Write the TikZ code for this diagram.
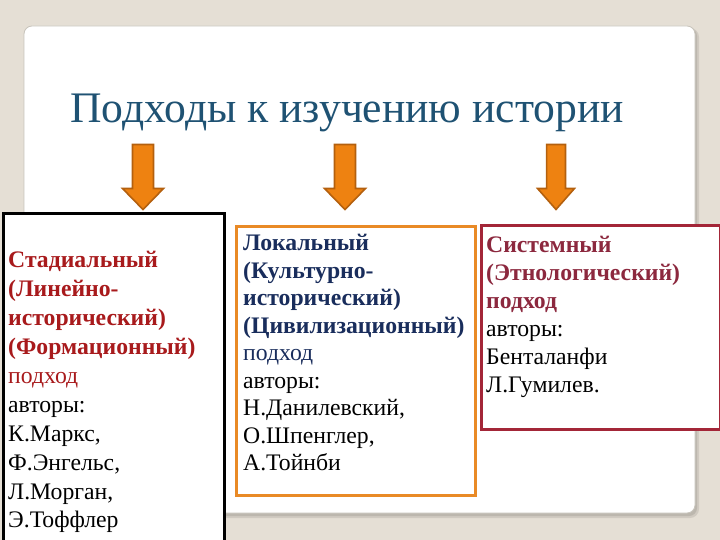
\documentclass[tikz,border=0pt]{standalone}
\usepackage{fontspec}
\setmainfont{Liberation Serif}
\definecolor{bgc}{RGB}{229,223,213}
\definecolor{cardedge}{RGB}{200,196,188}
\definecolor{shadowc}{RGB}{170,165,156}
\definecolor{titlec}{RGB}{31,82,115}
\definecolor{arrowfillc}{RGB}{238,130,17}
\definecolor{arrowdrawc}{RGB}{180,96,14}
\definecolor{redc}{RGB}{168,26,28}
\definecolor{navyc}{RGB}{25,45,92}
\definecolor{maroonc}{RGB}{140,40,62}
\definecolor{orangec}{RGB}{233,138,38}
\definecolor{boxredc}{RGB}{163,38,56}
\begin{document}
\begin{tikzpicture}[x=1pt,y=-1pt,
  boxframe/.style={draw, line width=3pt, fill=white, anchor=north west, inner sep=0pt},
  boxtext/.style={anchor=base west, inner sep=0pt, align=left, text width=235pt,
    font=\fontsize{23.7}{28.9}\selectfont},
  downarrow/.pic={\filldraw[fill=arrowfillc, draw=arrowdrawc, line width=1.6pt, line join=miter]
    (-10.5,0) -- (10.5,0) -- (10.5,44) -- (20.5,44) -- (0,65) -- (-20.5,44) -- (-10.5,44) -- cycle;}]
\useasboundingbox (0,0) rectangle (720,540);
\fill[bgc] (0,0) rectangle (720,540);
% card shadow
\fill[shadowc, opacity=0.35, rounded corners=9pt] (25,28) rectangle (699,518);
\fill[shadowc, opacity=0.5, rounded corners=8pt] (26,28) rectangle (697,516);
% card
\filldraw[fill=white, draw=cardedge, line width=0.8pt, rounded corners=8pt] (24,26) rectangle (695,513);
% title
\node[anchor=base west, inner sep=0pt, text=titlec, font=\fontsize{43.6}{46}\selectfont] (title) at (70,123) {Подходы к изучению истории};
% arrows
\pic at (143,144.5) {downarrow};
\pic at (345,144.5) {downarrow};
\pic[xscale=0.9] at (556,144.5) {downarrow};
% boxes
\node[boxframe, draw=black, minimum width=221pt, minimum height=340pt] (b1) at (1.5,212.5) {};
\node[boxframe, draw=orangec, minimum width=239pt, minimum height=269pt] (b2) at (235,225) {};
\node[boxframe, draw=boxredc, minimum width=239pt, minimum height=203pt] (b3) at (479.5,224.5) {};
% texts
\node[boxtext] (t1) at (8,267.8) {\textcolor{redc}{\textbf{Стадиальный}}\\
\textcolor{redc}{\textbf{(Линейно-}}\\
\textcolor{redc}{\textbf{исторический)}}\\
\textcolor{redc}{\textbf{(Формационный)}}\\
\textcolor{redc}{подход}\\
авторы:\\
К.Маркс,\\
Ф.Энгельс,\\
Л.Морган,\\
Э.Тоффлер};
\node[boxtext, font=\fontsize{23.7}{27.5}\selectfont] (t2) at (243,250.8) {\textcolor{navyc}{\textbf{Локальный}}\\
\textcolor{navyc}{\textbf{(Культурно-}}\\
\textcolor{navyc}{\textbf{исторический)}}\\
\textcolor{navyc}{\textbf{(Цивилизационный)}}\\
\textcolor{navyc}{подход}\\
авторы:\\
Н.Данилевский,\\
О.Шпенглер,\\
А.Тойнби};
\node[boxtext, font=\fontsize{23.7}{28}\selectfont] (t3) at (486,252.8) {\textcolor{maroonc}{\textbf{Системный}}\\
\textcolor{maroonc}{\textbf{(Этнологический)}}\\
\textcolor{maroonc}{\textbf{подход}}\\
авторы:\\
Бенталанфи\\
Л.Гумилев.};
\end{tikzpicture}
\end{document}
